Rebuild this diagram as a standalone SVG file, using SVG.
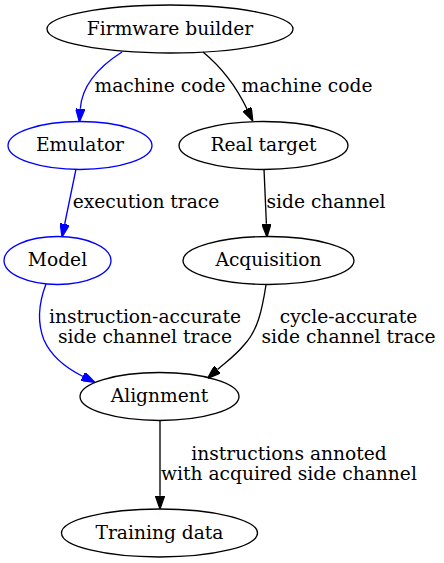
<svg xmlns="http://www.w3.org/2000/svg" width="444" height="563" viewBox="0 0 444 563">
<style>
text{font-family:"DejaVu Serif","Liberation Serif",serif;font-size:18.67px;fill:#000;text-anchor:middle}
.n ellipse{fill:none;stroke:#000;stroke-width:1.33}
.n.b ellipse{stroke:#0000ff}
.e path{fill:none;stroke:#000;stroke-width:1.33}
.e path.b{stroke:#0000ff}
</style>
<defs>
<marker id="ak" viewBox="0 0 13.3 9.34" refX="0" refY="4.67" markerWidth="13.3" markerHeight="9.34" markerUnits="userSpaceOnUse" orient="auto"><path d="M0,0 L13.3,4.67 L0,9.34 Z" fill="#000" stroke="#000" stroke-width="1.33"/></marker>
<marker id="ab" viewBox="0 0 13.3 9.34" refX="0" refY="4.67" markerWidth="13.3" markerHeight="9.34" markerUnits="userSpaceOnUse" orient="auto"><path d="M0,0 L13.3,4.67 L0,9.34 Z" fill="#0000ff" stroke="#0000ff" stroke-width="1.33"/></marker>
</defs>
<rect width="444" height="563" fill="#fff"/>
<g id="edges" class="e">
<path class="b" d="M122,52 C100,66 82,84 80.3,108.7" marker-end="url(#ab)"/>
<text x="160" y="92">machine code</text>
<path d="M203,52 C220,66 236,86 247,109" marker-end="url(#ak)"/>
<text x="307" y="92">machine code</text>
<path class="b" d="M76,169 L64.7,224" marker-end="url(#ab)"/>
<text x="146" y="208">execution trace</text>
<path d="M264,169 L266.4,223.7" marker-end="url(#ak)"/>
<text x="326" y="208">side channel</text>
<path class="b" d="M46,284 C38,305 38,325 44,340 C52,358 70,370 83,376.5" marker-end="url(#ab)"/>
<text x="145" y="323">instruction-accurate</text>
<text x="145" y="343">side channel trace</text>
<path d="M266,285 C262,310 258,330 244,345 C235,356 226,362 217.5,369.5" marker-end="url(#ak)"/>
<text x="348.5" y="323">cycle-accurate</text>
<text x="348.5" y="343">side channel trace</text>
<path d="M160,420 L160,495.7" marker-end="url(#ak)"/>
<text x="289" y="460">instructions annoted</text>
<text x="289" y="480">with acquired side channel</text>
</g>
<g id="firmware" class="n"><ellipse cx="170" cy="29" rx="123" ry="24"/><text x="170" y="35">Firmware builder</text></g>
<g id="emulator" class="n b"><ellipse cx="80" cy="145.5" rx="72" ry="24"/><text x="80" y="151">Emulator</text></g>
<g id="realtarget" class="n"><ellipse cx="263.5" cy="145.5" rx="84.5" ry="24"/><text x="263.5" y="151">Real target</text></g>
<g id="model" class="n b"><ellipse cx="57.5" cy="260.5" rx="53.5" ry="24"/><text x="57.5" y="266">Model</text></g>
<g id="acquisition" class="n"><ellipse cx="268.5" cy="260.5" rx="85.5" ry="24"/><text x="268.5" y="266">Acquisition</text></g>
<g id="alignment" class="n"><ellipse cx="159.5" cy="396.5" rx="79.5" ry="24"/><text x="159.5" y="402">Alignment</text></g>
<g id="training" class="n"><ellipse cx="159.5" cy="533" rx="98" ry="24"/><text x="159.5" y="538.5">Training data</text></g>
</svg>
